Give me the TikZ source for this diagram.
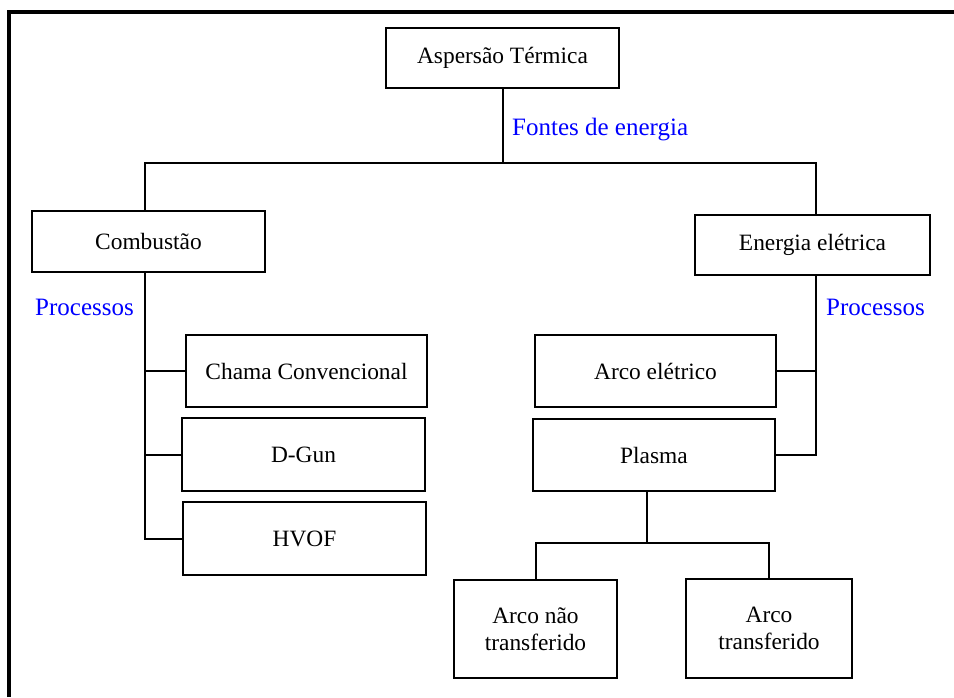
\documentclass[tikz,border=0pt]{standalone}
\usepackage{fontspec}
\setmainfont{Liberation Serif}
\begin{document}
\begin{tikzpicture}[x=1pt,y=-1pt,
  box/.style={draw,line width=2pt,inner sep=0pt,align=center,font=\fontsize{23.4}{27}\selectfont},
  lbl/.style={text=blue,inner sep=0pt,anchor=west,font=\fontsize{25}{29}\selectfont},
  con/.style={line width=2pt}]
\useasboundingbox (0,0) rectangle (954,697);
\draw[line width=4pt] (9,697) -- (9,12) -- (954,12);
% boxes
\node[box,minimum width=233pt,minimum height=60pt] (asp) at (502.5,58) {Aspersão Térmica};
\node[box,minimum width=233pt,minimum height=61pt] (comb) at (148.5,241.5) {Combustão};
\node[box,minimum width=235pt,minimum height=60pt] (ener) at (812.5,245) {Energia elétrica};
\node[box,minimum width=241pt,minimum height=72pt] (chama) at (306.5,371) {Chama Convencional};
\node[box,minimum width=243pt,minimum height=73pt] (dgun) at (303.5,454.5) {D-Gun};
\node[box,minimum width=243pt,minimum height=73pt] (hvof) at (304.5,538.5) {HVOF};
\node[box,minimum width=241pt,minimum height=72pt] (arco) at (655.5,371) {Arco elétrico};
\node[box,minimum width=242pt,minimum height=72pt] (plasma) at (654,455) {Plasma};
\node[box,minimum width=163pt,minimum height=98pt] (ant) at (535.5,629) {Arco não\\transferido};
\node[box,minimum width=166pt,minimum height=99pt] (at) at (769,628.5) {Arco\\transferido};
% labels
\node[lbl] (fe) at (512,130) {Fontes de energia};
\node[lbl] (pl) at (35,307) {Processos};
\node[lbl] (pr) at (826,307) {Processos};
% connectors
\coordinate (hb) at (0,163);
\coordinate (hb2) at (0,543);
\draw[con] (asp.south) -- (asp.south |- hb);
\draw[con] (comb.north -| 145,0) -- (hb -| 145,0) -| (ener.north -| 816,0);
\draw[con] (comb.south -| 145,0) |- (hvof.west);
\draw[con] (chama.west -| 145,0) -- (chama.west);
\draw[con] (dgun.west -| 145,0) -- (dgun.west);
\draw[con] (ener.south -| 816,0) |- (plasma.east);
\draw[con] (arco.east) -- (arco.east -| 816,0);
\draw[con] ([xshift=-7pt]plasma.south) -- ([xshift=-7pt]plasma.south |- hb2);
\draw[con] (ant.north) -- (ant.north |- hb2) -| (at.north);
\end{tikzpicture}
\end{document}
